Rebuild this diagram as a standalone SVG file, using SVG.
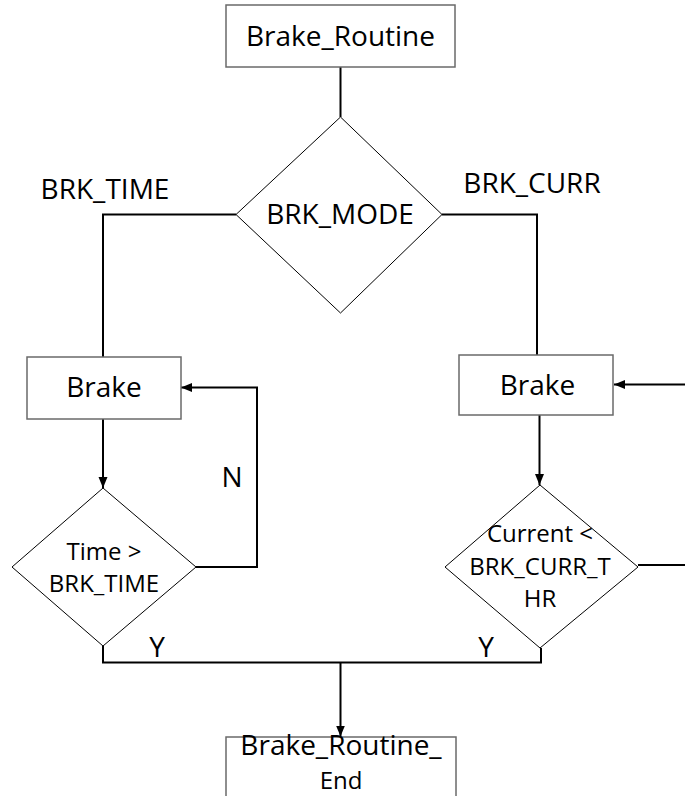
<svg xmlns="http://www.w3.org/2000/svg" width="685" height="796" viewBox="0 0 685 796">
<style>
  .box { fill: #ffffff; stroke: #6a6a6a; stroke-width: 1.5; }
  .dia { fill: #ffffff; stroke: #000000; stroke-width: 1; }
  .conn { fill: none; stroke: #000000; stroke-width: 2; }
  .t { font-family: "Open Sans", "Liberation Sans", sans-serif; fill: #000000; text-anchor: middle; }
  .big { font-size: 28px; }
  .small { font-size: 24px; }
</style>
<defs>
  <marker id="arrow" markerUnits="userSpaceOnUse" markerWidth="12" markerHeight="10" refX="11" refY="5" orient="auto">
    <path d="M0,0.5 L11,5 L0,9.5 z" fill="#000000"/>
  </marker>
</defs>
<rect width="685" height="796" fill="#ffffff"/>

<g id="connectors">
  <path class="conn" d="M340.5,67 V117"/>
  <path class="conn" d="M236,214.5 H103 V357"/>
  <path class="conn" d="M442,214.5 H537 V355"/>
  <path class="conn" d="M103,419 V488" marker-end="url(#arrow)"/>
  <path class="conn" d="M196,567 H257 V387.5 H181" marker-end="url(#arrow)"/>
  <path class="conn" d="M685,384.5 H614" marker-end="url(#arrow)"/>
  <path class="conn" d="M539.5,415 V485" marker-end="url(#arrow)"/>
  <path class="conn" d="M638,565 H685"/>
  <path class="conn" d="M103,646 V662.5 H541 V648"/>
  <path class="conn" d="M340.5,662.5 V736.5" marker-end="url(#arrow)"/>
</g>

<g id="start">
  <rect class="box" x="226" y="5" width="229" height="62"/>
  <text class="t big" x="340.5" y="46">Brake_Routine</text>
</g>

<g id="mode">
  <polygon class="dia" points="340.5,117 442,214.5 340.5,313 236,214.5"/>
  <text class="t big" x="340" y="224">BRK_MODE</text>
</g>

<g id="label-time">
  <text class="t big" x="105" y="199">BRK_TIME</text>
</g>
<g id="label-curr">
  <text class="t big" x="532" y="193">BRK_CURR</text>
</g>

<g id="brake-left">
  <rect class="box" x="27" y="357" width="154" height="62"/>
  <text class="t big" x="104" y="397">Brake</text>
</g>

<g id="brake-right">
  <rect class="box" x="459" y="355" width="154" height="60"/>
  <text class="t big" x="537.5" y="395">Brake</text>
</g>

<g id="check-time">
  <polygon class="dia" points="103,488 196,567 103,646 12,567"/>
  <text class="t small" x="104" y="560">Time &gt;</text>
  <text class="t small" x="104" y="592">BRK_TIME</text>
</g>

<g id="check-curr">
  <polygon class="dia" points="540,485 638,567 540,648 445,567"/>
  <text class="t small" x="540" y="542">Current &lt;</text>
  <text class="t small" x="540" y="575">BRK_CURR_T</text>
  <text class="t small" x="540" y="607">HR</text>
</g>

<g id="label-n">
  <text class="t big" x="232" y="487">N</text>
</g>
<g id="label-y-left">
  <text class="t big" x="157" y="657">Y</text>
</g>
<g id="label-y-right">
  <text class="t big" x="486" y="657">Y</text>
</g>

<g id="end">
  <rect class="box" x="226" y="737" width="230" height="80"/>
  <text class="t big" x="341" y="755">Brake_Routine_</text>
  <text class="t small" x="341" y="789">End</text>
</g>
</svg>
